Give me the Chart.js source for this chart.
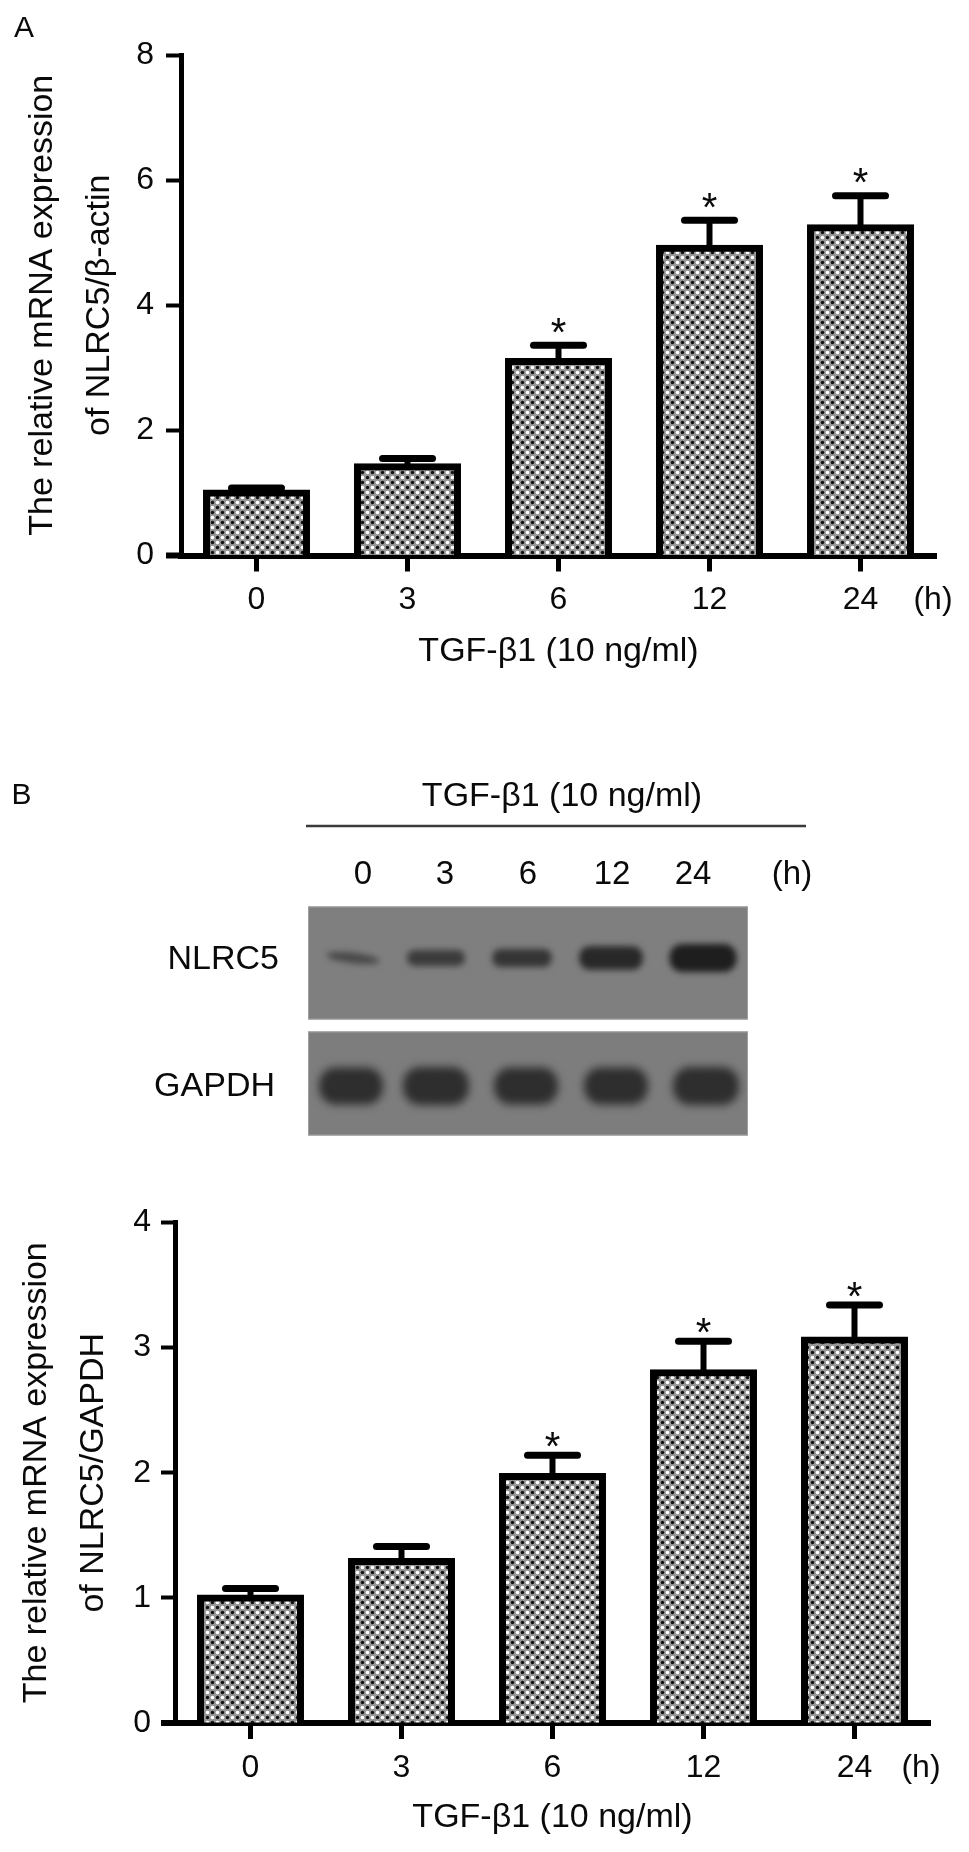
<!DOCTYPE html>
<html>
<head>
<meta charset="utf-8">
<script src="https://cdn.jsdelivr.net/npm/chart.js@4.4.0/dist/chart.umd.min.js"></script>
<style>
  html, body { margin: 0; padding: 0; background: #fff; }
  #page { position: relative; width: 969px; height: 1852px; overflow: hidden; background: #fff; }
  canvas { position: absolute; left: 0; }
  #chartA { top: 0; }
  #blot { top: 700px; }
  #chartB { top: 1160px; }
</style>
</head>
<body>
<div id="page">
  <canvas id="chartA" width="969" height="700"></canvas>
  <canvas id="blot" width="969" height="460"></canvas>
  <canvas id="chartB" width="969" height="692"></canvas>
</div>
<script>
const FONT = '"Liberation Sans", Arial, Helvetica, sans-serif';
const INK = '#0a0a0a';

// time points after TGF-b1 (h)
const hours = ['0', '3', '6', '12', '24'];

// panel A - NLRC5 mRNA relative to beta-actin
const actinMean = [1.0, 1.42, 3.10, 4.91, 5.24];
const actinErr = [0.08, 0.13, 0.26, 0.45, 0.51];
const actinSig = [false, false, true, true, true];
const actinTicks = [0, 2, 4, 6, 8];

// panel B (bottom) - NLRC5 relative to GAPDH
const gapdhMean = [1.0, 1.29, 1.97, 2.80, 3.06];
const gapdhErr = [0.075, 0.12, 0.17, 0.25, 0.28];
const gapdhSig = [false, false, true, true, true];
const gapdhTicks = [0, 1, 2, 3, 4];

// western blot band strength (0..1)
const nlrc5Band = [0.2, 0.45, 0.55, 0.8, 1.0];
const gapdhBand = [0.97, 1.0, 0.97, 0.97, 1.0];

// dotted grey fill like the GraphPad pattern
function makeDots() {
    const t = document.createElement('canvas');
    t.width = 10; t.height = 10;
    const c = t.getContext('2d');
    c.fillStyle = '#969696';
    c.fillRect(0, 0, 10, 10);
    const dot = (x, y, r, col) => {
        c.fillStyle = col;
        c.beginPath(); c.arc(x, y, r, 0, Math.PI * 2); c.fill();
    };
    dot(2.5, 2.5, 1.7, '#111');
    dot(7.5, 7.5, 1.7, '#111');
    dot(7.5, 2.5, 1.8, '#fff');
    dot(2.5, 7.5, 1.8, '#fff');
    return c.createPattern(t, 'repeat');
}
const dots = makeDots();

// error bars, stars, "(h)" and panel letter
function decor(cfg) {
    return {
        id: 'decor',
        afterDatasetsDraw(chart) {
            const {ctx, scales: {y}} = chart;
            const meta = chart.getDatasetMeta(0);
            const vals = chart.data.datasets[0].data;
            ctx.save();
            ctx.strokeStyle = '#000';
            ctx.fillStyle = INK;
            meta.data.forEach((bar, i) => {
                const base = y.getPixelForValue(vals[i]);
                const top = y.getPixelForValue(vals[i] + cfg.err[i]);
                ctx.lineWidth = 6;
                ctx.lineCap = 'butt';
                ctx.beginPath(); ctx.moveTo(bar.x, base); ctx.lineTo(bar.x, top); ctx.stroke();
                ctx.lineWidth = 7;
                ctx.lineCap = 'round';
                ctx.beginPath(); ctx.moveTo(bar.x - 25, top); ctx.lineTo(bar.x + 25, top); ctx.stroke();
                if (cfg.sig[i]) {
                    ctx.font = `40px ${FONT}`;
                    ctx.textAlign = 'center';
                    ctx.textBaseline = 'alphabetic';
                    const m = ctx.measureText('*');
                    const cy = top - cfg.starGap;
                    ctx.fillText('*', bar.x, cy + (m.actualBoundingBoxAscent - m.actualBoundingBoxDescent) / 2);
                }
            });
            ctx.restore();
        },
        afterDraw(chart) {
            const {ctx, chartArea} = chart;
            ctx.save();
            // x axis runs a little past the y axis
            ctx.strokeStyle = '#000';
            ctx.lineWidth = 6;
            ctx.beginPath();
            ctx.moveTo(chartArea.left - cfg.ext, chartArea.bottom);
            ctx.lineTo(chartArea.left, chartArea.bottom);
            ctx.stroke();
            ctx.fillStyle = INK;
            ctx.textAlign = 'center';
            ctx.textBaseline = 'middle';
            ctx.font = `32px ${FONT}`;
            ctx.fillText('(h)', chartArea.right + cfg.hOff, chartArea.bottom + 45);
            if (cfg.letter) {
                ctx.font = `30px ${FONT}`;
                ctx.fillText(cfg.letter, 24, 29);
            }
            ctx.restore();
        }
    };
}

function barChart(id, cfg) {
    return new Chart(document.getElementById(id), {
        type: 'bar',
        data: {
            labels: hours,
            datasets: [{
                data: cfg.values,
                backgroundColor: dots,
                borderColor: '#000',
                borderWidth: 7,
                borderSkipped: 'start',
                inflateAmount: 3.5,
                barPercentage: 0.662,
                categoryPercentage: 1
            }]
        },
        options: {
            responsive: false,
            animation: false,
            devicePixelRatio: 1,
            layout: { padding: cfg.pad },
            plugins: { legend: { display: false }, tooltip: { enabled: false } },
            scales: {
                x: {
                    z: 1,
                    offset: true,
                    grid: { display: true, offset: false, drawOnChartArea: false, color: '#000', tickColor: '#000', tickLength: 16, tickWidth: 5 },
                    border: { display: true, color: '#000', width: 6 },
                    ticks: { color: INK, font: { family: FONT, size: 32 }, padding: 9.5, maxRotation: 0, autoSkip: false },
                    title: {
                        display: true, text: 'TGF-β1 (10 ng/ml)', color: INK,
                        font: { family: FONT, size: 34, lineHeight: 1.2 },
                        padding: { top: 0, bottom: cfg.xTitlePad }
                    },
                    afterFit: s => { s.height = cfg.xHeight; }
                },
                y: {
                    min: 0,
                    max: cfg.ticks[cfg.ticks.length - 1],
                    afterBuildTicks: s => { s.ticks = cfg.ticks.map(v => ({ value: v })); },
                    grid: { display: true, drawOnChartArea: false, tickColor: '#000', tickLength: cfg.yTickLen, tickWidth: 4 },
                    border: { display: true, color: '#000', width: 5 },
                    ticks: { color: INK, font: { family: FONT, size: 32 }, padding: cfg.yTickPad },
                    title: {
                        display: true, text: cfg.yTitle, color: INK,
                        font: { family: FONT, size: 34, lineHeight: 1.65 },
                        padding: { top: cfg.yTitlePad, bottom: 0 }
                    },
                    afterFit: s => { s.width = cfg.yWidth; }
                }
            }
        },
        plugins: [decor(cfg)]
    });
}

barChart('chartA', {
    values: actinMean, err: actinErr, sig: actinSig, ticks: actinTicks,
    yTitle: ['The relative mRNA expression', 'of NLRC5/β-actin'],
    pad: { left: 0, right: 33, top: 55, bottom: 0 },
    xHeight: 144.5, xTitlePad: 27.6,
    yWidth: 181, yTickLen: 15, yTickPad: 12, yTitlePad: 15,
    hOff: -3, starGap: 20, ext: 15, letter: 'A'
});

barChart('chartB', {
    values: gapdhMean, err: gapdhErr, sig: gapdhSig, ticks: gapdhTicks,
    yTitle: ['The relative mRNA expression', 'of NLRC5/GAPDH'],
    pad: { left: 0, right: 39, top: 62.5, bottom: 0 },
    xHeight: 129, xTitlePad: 14,
    yWidth: 175, yTickLen: 14, yTickPad: 10, yTitlePad: 9,
    hOff: -9, starGap: 16, ext: 14, letter: null
});

// Western blot panel
function drawBlot() {
    const c = document.getElementById('blot').getContext('2d');
    const oy = 700;
    c.fillStyle = INK;
    c.textBaseline = 'middle';
    c.textAlign = 'center';
    c.font = `30px ${FONT}`;
    c.fillText('B', 21.5, 796 - oy);
    c.font = `34px ${FONT}`;
    c.fillText('TGF-β1 (10 ng/ml)', 562, 796.5 - oy);
    c.strokeStyle = '#3a3a3a';
    c.lineWidth = 2.5;
    c.beginPath(); c.moveTo(306, 826 - oy); c.lineTo(806, 826 - oy); c.stroke();

    c.font = `33px ${FONT}`;
    const labelX = [363, 445, 528, 612, 693];
    hours.forEach((h, i) => c.fillText(h, labelX[i], 875 - oy));
    c.fillText('(h)', 792, 875 - oy);
    c.textAlign = 'right';
    c.font = `34px ${FONT}`;
    c.fillText('NLRC5', 279, 960 - oy);
    c.fillText('GAPDH', 275, 1087 - oy);

    const strips = [
        { y: 906.5 - oy, h: 113, bg: '#7f7f7f', lanes: [353, 436, 522, 611, 703], cy: 958 - oy, band: nlrc5Band, blur: 3,
          size: s => [50 + 17 * s, 6 + 22 * s, Math.round(82 - 52 * s)] },
        { y: 1031.5 - oy, h: 104, bg: '#7d7d7d', lanes: [351, 436, 526, 616, 706], cy: 1086 - oy, band: gapdhBand, blur: 4,
          size: s => [66 * s, 38 * s, 46] }
    ];
    strips.forEach(st => {
        c.save();
        c.fillStyle = st.bg;
        c.fillRect(308, st.y, 440, st.h);
        c.strokeStyle = '#a0a0a0';
        c.lineWidth = 1;
        c.strokeRect(308.5, st.y + 0.5, 439, st.h - 1);
        c.beginPath(); c.rect(309, st.y + 1, 438, st.h - 2); c.clip();
        c.filter = `blur(${st.blur}px)`;
        st.band.forEach((s, i) => {
            const [w, h, g] = st.size(s);
            c.fillStyle = `rgb(${g},${g},${g})`;
            c.beginPath();
            if (i === 0 && st.band === nlrc5Band) {
                // faint, slightly tilted first band
                c.ellipse(st.lanes[i], st.cy, w / 2, h / 2, 0.12, 0, Math.PI * 2);
            } else {
                c.roundRect(st.lanes[i] - w / 2, st.cy - h / 2, w, h, h / 2.2);
            }
            c.fill();
        });
        c.restore();
    });
}
drawBlot();
</script>
</body>
</html>
